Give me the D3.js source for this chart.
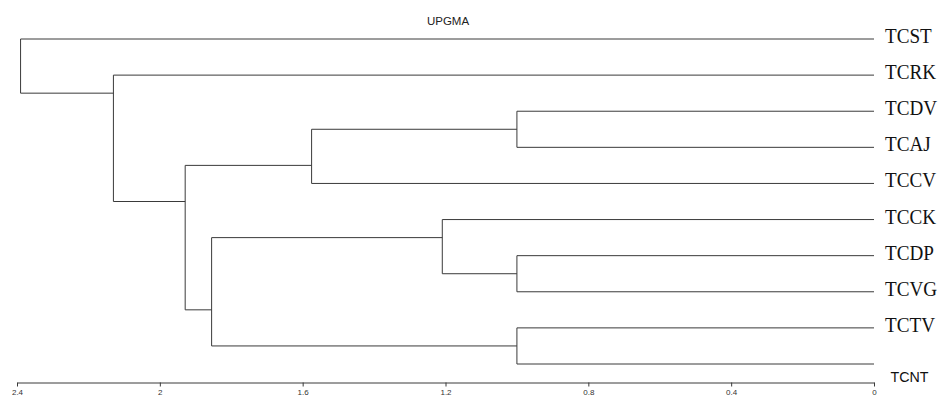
<!DOCTYPE html>
<html>
<head>
<meta charset="utf-8">
<script src="https://cdn.jsdelivr.net/npm/d3@7"></script>
<style>
  html, body { margin: 0; padding: 0; background: #fff; }
  svg { display: block; }
</style>
</head>
<body>
<svg id="chart" width="941" height="398"></svg>
<script>
// ---- data ----
const title = "UPGMA";
const leaves = ["TCST","TCRK","TCDV","TCAJ","TCCV","TCCK","TCDP","TCVG","TCTV","TCNT"];
// merge steps: [id, child A, child B, height]
const mergeIds    = ["n1","n2","n3","n4","n5","n6","n7","n8","n9"];
const mergeLeft   = ["TCDV","TCDP","TCTV","TCCK","n1","n4","n5","TCRK","TCST"];
const mergeRight  = ["TCAJ","TCVG","TCNT","n2","TCCV","n3","n6","n7","n8"];
const mergeHeight = [1.00, 1.00, 1.00, 1.209, 1.575, 1.855, 1.929, 2.130, 2.390];
const tickValues  = [2.4, 2, 1.6, 1.2, 0.8, 0.4, 0];
const tickLabels  = ["2.4","2","1.6","1.2","0.8","0.4","0"];

// ---- build tree ----
const nodes = {};
leaves.forEach(n => nodes[n] = {name: n, height: 0});
mergeIds.forEach((id, i) => {
  nodes[id] = {name: id, height: mergeHeight[i], children: [nodes[mergeLeft[i]], nodes[mergeRight[i]]]};
});
const root = d3.hierarchy(nodes[mergeIds[mergeIds.length - 1]]);

const svg = d3.select("#chart");
const x = d3.scaleLinear().domain([2.4, 0]).range([17, 874]);
const yLeaf = d3.scalePoint().domain(leaves).range([39, 364]);

function lastLeaf(n) { return n.children ? lastLeaf(n.children[n.children.length - 1]) : n; }
function firstLeaf(n) { return n.children ? firstLeaf(n.children[0]) : n; }
root.eachAfter(n => {
  n.px = x(n.data.height);
  if (!n.children) n.py = yLeaf(n.data.name);
  else n.py = (yLeaf(lastLeaf(n.children[0]).data.name) + yLeaf(firstLeaf(n.children[1]).data.name)) / 2;
});

const g = svg.append("g").attr("fill", "none").attr("stroke", "#3a3a3a").attr("stroke-width", 1);
root.descendants().filter(n => n.children).forEach(n => {
  const [a, b] = n.children;
  g.append("line").attr("x1", n.px).attr("x2", n.px).attr("y1", a.py).attr("y2", b.py);
  n.children.forEach(c => {
    g.append("line").attr("x1", n.px).attr("x2", c.px).attr("y1", c.py).attr("y2", c.py);
  });
});

// leaf labels
root.leaves().forEach(l => {
  const isLast = l.data.name === "TCNT";
  const tx = isLast ? 890.5 : 885;
  const ty = isLast ? 382 : l.py + 4;
  svg.append("text")
    .attr("transform", `translate(${tx},${ty}) scale(${isLast ? 0.92 : 0.87},1)`)
    .attr("font-family", isLast ? "'Liberation Sans', Arial, sans-serif" : "'Liberation Serif', 'Times New Roman', serif")
    .attr("font-size", isLast ? 15.5 : 22)
    .attr("fill", "#111")
    .text(l.data.name);
});

// title
svg.append("text")
  .attr("x", 448).attr("y", 25)
  .attr("text-anchor", "middle")
  .attr("font-family", "'Liberation Sans', Arial, sans-serif")
  .attr("font-size", 11.5)
  .attr("fill", "#222")
  .text(title);

// axis
const axis = d3.axisBottom(x)
  .tickValues(tickValues)
  .tickFormat((d, i) => tickLabels[i])
  .tickSize(4).tickSizeOuter(0).tickPadding(3);
const ag = svg.append("g").attr("transform", "translate(0,382.5)").call(axis);
ag.select(".domain").attr("stroke", "#3a3a3a");
ag.selectAll(".tick line").attr("stroke", "#3a3a3a");
ag.selectAll(".tick text")
  .attr("font-family", "'Liberation Sans', Arial, sans-serif")
  .attr("font-size", 8)
  .attr("fill", "#333");
</script>
</body>
</html>
